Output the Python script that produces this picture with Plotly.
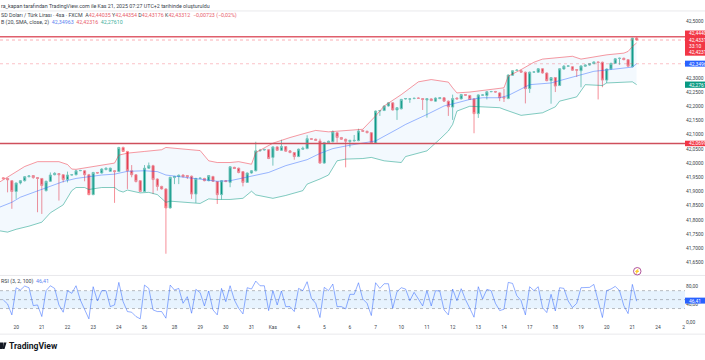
import plotly.graph_objects as go

OPEN = [41.948,41.946,41.938,41.900,41.930,41.938,41.952,41.956,41.949,41.946,
41.903,41.936,41.959,41.963,41.959,41.942,41.958,41.959,41.973,41.973,
41.959,41.889,41.967,41.965,41.977,41.971,41.973,41.970,42.055,42.041,
41.973,41.959,41.938,41.900,41.982,41.991,41.944,41.918,41.909,41.842,
41.949,41.953,41.958,41.956,41.954,41.891,41.946,41.946,41.938,41.953,
41.935,41.889,41.938,41.932,41.985,41.982,41.970,41.932,41.965,41.973,
42.043,42.046,42.047,42.020,42.057,42.045,42.058,42.043,42.037,42.023,
42.049,42.051,42.086,42.084,42.078,42.000,42.072,42.075,42.107,42.090,
42.084,42.076,42.078,42.079,42.115,42.112,42.107,42.070,42.183,42.185,
42.201,42.212,42.187,42.191,42.226,42.225,42.227,42.229,42.227,42.222,
42.226,42.218,42.227,42.230,42.218,42.197,42.229,42.226,42.241,42.238,
42.226,42.174,42.239,42.238,42.251,42.252,42.247,42.232,42.227,42.309,
42.326,42.325,42.320,42.262,42.320,42.320,42.332,42.317,42.290,42.301,
42.273,42.331,42.341,42.339,42.329,42.325,42.341,42.345,42.350,42.356,
42.355,42.292,42.331,42.351,42.368,42.369,42.364,42.339,42.44035]
HIGH = [41.950,41.948,41.940,41.931,41.940,41.954,41.957,41.957,41.950,41.947,
41.938,41.967,41.968,41.965,41.960,41.970,41.961,41.976,41.976,41.975,
41.962,41.969,41.968,41.982,41.985,41.984,41.975,42.057,42.058,42.043,
41.993,41.961,41.940,41.993,42.002,41.994,41.946,41.920,41.911,41.952,
41.955,41.960,41.960,41.958,41.956,41.948,41.949,41.948,41.958,41.955,
41.937,41.940,41.940,41.989,41.987,41.984,41.972,41.967,41.975,42.075,
42.050,42.050,42.049,42.059,42.059,42.082,42.060,42.045,42.039,42.051,
42.058,42.098,42.088,42.086,42.086,42.075,42.079,42.115,42.109,42.092,
42.086,42.082,42.099,42.121,42.117,42.114,42.109,42.185,42.187,42.203,
42.214,42.214,42.197,42.226,42.229,42.228,42.230,42.231,42.229,42.229,
42.228,42.231,42.232,42.232,42.220,42.241,42.231,42.243,42.243,42.240,
42.228,42.242,42.242,42.253,42.254,42.254,42.249,42.261,42.312,42.327,
42.331,42.329,42.322,42.322,42.323,42.334,42.334,42.319,42.303,42.303,
42.334,42.345,42.344,42.341,42.331,42.344,42.347,42.352,42.358,42.358,
42.357,42.333,42.353,42.369,42.371,42.371,42.366,42.441,42.44354]
LOW = [41.944,41.897,41.839,41.874,41.925,41.935,41.950,41.945,41.827,41.821,
41.900,41.934,41.957,41.868,41.932,41.932,41.957,41.957,41.972,41.936,
41.887,41.887,41.963,41.963,41.975,41.970,41.860,41.969,42.039,41.909,
41.950,41.932,41.898,41.898,41.980,41.891,41.903,41.907,41.681,41.840,
41.926,41.926,41.950,41.944,41.874,41.860,41.944,41.936,41.936,41.934,
41.856,41.872,41.933,41.915,41.979,41.964,41.918,41.930,41.963,41.971,
42.041,42.044,42.014,41.991,42.043,42.043,42.040,42.035,42.012,42.021,
42.047,42.049,42.082,42.078,41.998,41.998,42.070,42.073,42.072,42.082,
41.985,42.055,42.076,42.077,42.110,42.105,42.068,42.068,42.166,42.183,
42.199,42.185,42.152,42.189,42.224,42.212,42.225,42.226,42.187,42.160,
42.218,42.216,42.225,42.216,42.166,42.152,42.224,42.224,42.237,42.222,
42.105,42.159,42.237,42.224,42.250,42.248,42.218,42.215,42.225,42.307,
42.324,42.318,42.210,42.247,42.318,42.318,42.315,42.288,42.209,42.250,
42.271,42.329,42.339,42.325,42.303,42.267,42.339,42.343,42.348,42.224,
42.267,42.282,42.329,42.349,42.346,42.362,42.339,42.337,42.43176]
CLOSE = [41.945,41.941,41.900,41.930,41.938,41.952,41.955,41.949,41.946,41.921,
41.936,41.958,41.964,41.959,41.942,41.958,41.959,41.973,41.974,41.959,
41.889,41.967,41.965,41.979,41.982,41.982,41.970,42.055,42.041,41.973,
41.959,41.935,41.900,41.982,41.991,41.942,41.918,41.909,41.842,41.950,
41.953,41.957,41.952,41.952,41.891,41.946,41.947,41.938,41.956,41.936,
41.889,41.938,41.935,41.987,41.981,41.967,41.932,41.965,41.973,42.043,
42.045,42.048,42.016,42.057,42.045,42.058,42.042,42.037,42.023,42.049,
42.052,42.086,42.084,42.080,42.000,42.072,42.077,42.110,42.090,42.084,
42.077,42.080,42.080,42.113,42.112,42.107,42.070,42.183,42.185,42.201,
42.212,42.187,42.195,42.224,42.227,42.226,42.228,42.228,42.224,42.227,
42.220,42.229,42.230,42.218,42.198,42.227,42.226,42.241,42.239,42.224,
42.174,42.240,42.240,42.251,42.252,42.250,42.230,42.229,42.310,42.325,
42.327,42.320,42.262,42.320,42.321,42.332,42.317,42.290,42.301,42.271,
42.332,42.341,42.342,42.327,42.327,42.342,42.345,42.350,42.356,42.354,
42.292,42.331,42.351,42.367,42.369,42.364,42.341,42.440,42.43312]

BB_UP_X = [-1,1,3,5,8,13,15,16,17,20,23,26,27,29,33,37,38,42,46,48,50,53,55,58,59,63,67,71,73,76,84,87,89,93,97,100,104,105,106,109,117,118,121,124,126,131,133,135,139,141,145,146,147,148]
BB_UP = [41.932,41.950,41.967,41.988,42.005,42.005,41.995,41.979,41.978,41.986,41.994,42.000,42.028,42.035,42.041,42.047,42.055,42.049,42.044,42.008,42.002,42.002,42.005,41.996,42.037,42.070,42.090,42.107,42.115,42.110,42.119,42.166,42.201,42.241,42.286,42.294,42.285,42.265,42.247,42.250,42.265,42.306,42.329,42.355,42.366,42.373,42.376,42.366,42.376,42.381,42.387,42.393,42.410,42.42316]
BB_MID_X = [-1,2,4,7,9,12,14,17,20,23,26,29,33,36,38,41,46,50,53,58,62,66,71,74,77,81,84,87,92,94,99,103,106,109,112,116,118,123,128,133,138,143,147,148]
BB_MID = [41.844,41.862,41.880,41.897,41.907,41.926,41.935,41.946,41.952,41.958,41.961,41.971,41.973,41.970,41.958,41.953,41.944,41.936,41.938,41.953,41.967,41.991,42.012,42.034,42.051,42.063,42.070,42.078,42.119,42.136,42.171,42.201,42.212,42.224,42.230,42.230,42.238,42.276,42.282,42.303,42.323,42.331,42.338,42.34963]
BB_LOW_X = [-1,1,3,6,9,11,14,15,16,17,19,20,23,26,27,28,29,32,34,36,38,39,44,46,48,50,53,56,58,59,63,66,70,71,74,76,78,80,84,86,89,93,94,99,102,104,105,106,109,116,117,121,126,129,130,134,136,140,141,147,148]
BB_LOW = [41.762,41.757,41.767,41.778,41.792,41.825,41.853,41.880,41.903,41.914,41.914,41.907,41.914,41.914,41.903,41.898,41.905,41.895,41.897,41.889,41.862,41.866,41.860,41.858,41.874,41.872,41.872,41.876,41.901,41.888,41.876,41.886,41.903,41.926,41.944,41.958,42.008,42.014,42.016,42.020,42.008,42.002,42.023,42.043,42.084,42.113,42.136,42.183,42.200,42.195,42.189,42.168,42.177,42.198,42.218,42.233,42.276,42.273,42.282,42.286,42.27610]

RSI = [49.2,40.3,15.9,76.6,71.4,80.3,76.6,36.6,38.1,12.2,70,81,75.1,38.1,21.8,70,64,81,49.2,27,7,78.8,47,70,70,34.4,38.1,88.5,45.5,23.3,21.8,12.2,7,82.5,75.1,27,23.3,23.3,8.5,82.5,71.4,75.1,41.8,56.6,19.6,72.9,65.5,35.9,69.2,27,15.9,75.1,45.5,81,
49.2,30.7,18.1,76.6,73.7,91.4,81,81,25.5,70,38.1,69.2,34.4,34.4,23.3,75.1,70,90,52.9,41.8,10,77.4,70,84.8,34.4,34.4,29.2,61.8,61.8,87.7,51.4,41.8,14.4,87.7,75.1,85.5,85.5,30.7,67.7,76.6,73.7,47.7,66.2,51.4,35.9,70,35.9,70,69.2,27,15.9,73.7,47.7,74.4,
50,30.7,10.7,78.8,51.4,72.9,70,41.8,25.5,28.5,88.5,86.2,58.8,47.7,15.9,78.8,70,78.8,32.2,21.1,61.8,24.8,76.6,75.1,47,32.2,41.8,76.6,76.6,77.4,84,47.7,10,70,73.7,79.6,70,36.6,18.8,84,46.41]

TIME_TICKS = [3,9,15,21,27,33,40,46,52,58,63,69,75,81,87,93,99,105,111,117,123,129,135,141,147,153,159]
TIME_LABELS = ["20","21","22","23","24","26","28","29","30","31","Kas","4","5","6","7","10","11","12","13","14","17","18","19","20","21","24","2"]
PRICE_TICKS = [42.5,42.3,42.25,42.2,42.15,42.1,42.05,42.0,41.95,41.9,41.85,41.8,41.75,41.7,41.65]
PRICE_LABELS = ["42,5000","42,3000","42,2500","42,2000","42,1500","42,1000","42,0500","42,0000","41,9500","41,9000","41,8500","41,8000","41,7500","41,7000","41,6500"]
RSI_TICKS = [80,40,0]
RSI_LABELS = ["80,00","40,00","0,00"]
LEVEL_LINES = [42.4445,42.069]
LAST_PRICE = 42.43312
BASIS = 42.34963
X_RANGE = [-0.77,159.3]
W, H = 705, 360
X_END = 685
FONT = "Roboto, Liberation Sans, sans-serif"
TXT = "#3a3f4b"
GREEN, RED, BLUE = "#089981", "#F23645", "#2962FF"

def px(x): return x / W
def py(y): return 1 - y / H

fig = go.Figure()
idx = list(range(len(CLOSE)))

fig.add_trace(go.Scatter(x=BB_UP_X, y=BB_UP, mode="lines", line=dict(color="rgba(242,54,69,.5)", width=1)))
fig.add_trace(go.Scatter(x=BB_LOW_X, y=BB_LOW, mode="lines", line=dict(color="rgba(8,153,129,.5)", width=1),
                         fill="tonexty", fillcolor="rgba(33,150,243,.055)"))
fig.add_trace(go.Scatter(x=BB_MID_X, y=BB_MID, mode="lines", line=dict(color="rgba(41,98,255,.45)", width=1)))
fig.add_trace(go.Candlestick(x=idx, open=OPEN, high=HIGH, low=LOW, close=CLOSE,
    increasing=dict(line=dict(color="#7cc9bc", width=1), fillcolor=GREEN),
    decreasing=dict(line=dict(color="#f68f98", width=1), fillcolor=RED),
    whiskerwidth=0))

fig.add_trace(go.Scatter(x=idx, y=RSI, mode="lines", xaxis="x2", yaxis="y2",
                         line=dict(color="rgba(41,98,255,.5)", width=1)))

shapes = []
for lv, c in zip(LEVEL_LINES, ["#df5f6c", "#cf4f5c"]):
    shapes.append(dict(type="line", xref="paper", yref="y", x0=0, x1=px(X_END), y0=lv, y1=lv,
                       line=dict(color=c, width=1.4), layer="above"))
shapes.append(dict(type="line", xref="paper", yref="y", x0=0, x1=px(X_END), y0=LAST_PRICE, y1=LAST_PRICE,
                   line=dict(color="rgba(242,54,69,.4)", width=1, dash="3px,3px")))
shapes.append(dict(type="line", xref="paper", yref="y", x0=0, x1=px(X_END), y0=BASIS, y1=BASIS,
                   line=dict(color="rgba(242,54,69,.3)", width=1, dash="3px,3px")))
shapes.append(dict(type="rect", xref="paper", yref="y2", x0=0, x1=px(X_END), y0=30, y1=70,
                   fillcolor="rgba(33,150,243,.11)", line=dict(width=0), layer="below"))
for lv in (70, 50, 30):
    shapes.append(dict(type="line", xref="paper", yref="y2", x0=0, x1=px(X_END), y0=lv, y1=lv,
                       line=dict(color="rgba(120,123,134,.5)", width=1, dash="3px,3px"), layer="below"))
for yy in (11, 277, 336):
    shapes.append(dict(type="line", xref="paper", yref="paper", x0=0, x1=1, y0=py(yy), y1=py(yy),
                       line=dict(color="#e9e9ec", width=1)))
for y0, y1, c in [(30.7, 56, RED), (61, 67, BLUE), (82, 88.3, GREEN), (141.5, 147, RED), (299.3, 305.3, BLUE)]:
    shapes.append(dict(type="rect", xref="paper", yref="paper", x0=px(X_END), x1=1, y0=py(y0), y1=py(y1),
                       fillcolor=c, line=dict(width=0), layer="above"))
shapes.append(dict(type="circle", xref="paper", yref="paper", x0=px(633.5), x1=px(641), y0=py(269), y1=py(276.5),
                   line=dict(color="#b0559c", width=1), fillcolor="white"))
shapes.append(dict(type="path", xref="paper", yref="paper",
    path=f"M {px(0)} {py(344.5)} L {px(3)} {py(344.5)} L {px(3)} {py(351)} L {px(0)} {py(351)} Z "
         f"M {px(3.5)} {py(344.5)} L {px(6.5)} {py(344.5)} L {px(4.5)} {py(351)} L {px(2.8)} {py(351)} Z",
    fillcolor="#131722", line=dict(width=0)))

def ann(x, y, text, size=5.3, color=TXT, xanchor="left", **kw):
    return dict(xref="paper", yref="paper", x=px(x), y=py(y), text=text, showarrow=False,
                font=dict(family=FONT, size=size, color=color), xanchor=xanchor, yanchor="middle",
                align="left", borderpad=0, **kw)

def sp(c, t): return f'<span style="color:{c}">{t}</span>'
r = "#e8606c"
anns = [
    ann(0, 6, "ra_kapan tarafından TradingView.com ile Kas 21, 2025 07:27 UTC+2 tarihinde oluşturuldu"),
    ann(0, 16, "SD Doları / Türk Lirası · 4sa · FXCM  A" + sp(r, "42,44035") + " Y" + sp(r, "42,44354") + " D" + sp(r, "42,43176")
        + " K" + sp(r, "42,43312") + "  " + sp(r, "−0,00723 (−0,02%)")),
    ann(0, 23, "B (20, SMA, close, 2)  " + sp("#5b83f0", "42,34963") + "  " + sp(r, "42,42316") + "  " + sp("#3fb09d", "42,27610")),
    ann(0, 283.5, "RSI (3, 2, 100)  " + sp("#5b83f0", "46,41")),
    ann(8, 348, "<b>TradingView</b>", size=8.6, color="#131722"),
    ann(637.3, 272.7, "⚡", size=5, color="#b0559c", xanchor="center"),
]
for y, t in [(33.5, "42,4440"), (40.3, "42,4331"), (46.3, "33:10"), (52.5, "42,4231"), (64, "42,3496"),
             (85.2, "42,2761"), (144.3, "42,0699"), (302.3, "46,41")]:
    anns.append(ann(688, y, t, size=4.9, color="white"))

fig.update_layout(
    width=W, height=H, margin=dict(l=0, r=0, t=0, b=0), paper_bgcolor="white", plot_bgcolor="white",
    showlegend=False, boxgap=0.3, shapes=shapes, annotations=anns,
    xaxis=dict(domain=[0, px(X_END)], range=X_RANGE, anchor="y", showgrid=False, zeroline=False,
               showticklabels=False, ticks="", rangeslider=dict(visible=False), showline=False),
    yaxis=dict(domain=[py(277), py(11)], range=[41.6045, 42.5355], side="right", anchor="x", showgrid=False,
               zeroline=False, tickvals=PRICE_TICKS, ticktext=PRICE_LABELS, ticks="",
               tickfont=dict(family=FONT, size=4.9, color=TXT), showline=False),
    xaxis2=dict(domain=[0, px(X_END)], range=X_RANGE, anchor="y2", showgrid=False, zeroline=False,
                tickvals=TIME_TICKS, ticktext=TIME_LABELS, ticks="", tickangle=0,
                tickfont=dict(family=FONT, size=4.9, color=TXT), showline=False),
    yaxis2=dict(domain=[py(325), py(277)], range=[-2.7, 104], side="right", anchor="x2", showgrid=False,
                zeroline=False, tickvals=RSI_TICKS, ticktext=RSI_LABELS, ticks="",
                tickfont=dict(family=FONT, size=4.9, color=TXT), showline=False),
)
fig.write_html("out.html", config=dict(displayModeBar=False),
               post_script="document.body.style.margin='0';document.documentElement.style.overflow='hidden';")
